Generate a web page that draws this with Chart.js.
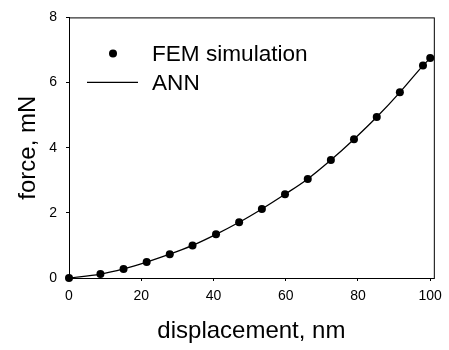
<!DOCTYPE html>
<html>
<head>
<meta charset="utf-8">
<script src="https://cdn.jsdelivr.net/npm/chart.js@4/dist/chart.umd.min.js"></script>
<style>
  html, body { margin: 0; padding: 0; background: #fff; }
  #wrap { width: 449px; height: 350px; }
</style>
</head>
<body>
<div id="wrap"><canvas id="chart" width="449" height="350"></canvas></div>
<script>
// displacement (nm) and force (mN)
const displacement = [0, 8.7, 15.1, 21.5, 27.9, 34.2, 40.7, 47.1, 53.4, 59.8, 66.1, 72.5, 78.9, 85.2, 91.6, 98, 100];
const femForce    = [0, 0.12, 0.28, 0.49, 0.73, 1.0, 1.34, 1.71, 2.12, 2.57, 3.04, 3.62, 4.26, 4.94, 5.70, 6.52, 6.75];
const annForce    = [0, 0.12, 0.28, 0.49, 0.73, 1.0, 1.34, 1.71, 2.12, 2.57, 3.04, 3.62, 4.26, 4.94, 5.70, 6.52, 6.75];
const xTicks = [0, 20, 40, 60, 80, 100];
const yTicks = [0, 2, 4, 6, 8];

const FONT = "'Liberation Sans', Arial, sans-serif";

// box around the plot + legend in the upper left corner
const framePlugin = {
    id: 'frame',
    beforeDatasetsDraw(chart) {
        const { ctx, chartArea: a } = chart;
        ctx.save();
        ctx.strokeStyle = '#000';
        ctx.lineWidth = 1;
        ctx.strokeRect(a.left + 0.5, a.top + 0.5, a.right - a.left, a.bottom - a.top);
        ctx.restore();
    },
    afterDraw(chart) {
        const { ctx, chartArea: a } = chart;
        const ds = chart.data.datasets;
        ctx.save();
        ctx.font = '22.6px ' + FONT;
        ctx.textBaseline = 'middle';
        ctx.fillStyle = '#000';
        // FEM simulation
        ctx.beginPath();
        ctx.arc(a.left + 44, a.top + 36, 4, 0, Math.PI * 2);
        ctx.fill();
        ctx.fillText(ds[0].label, a.left + 83, a.top + 37);
        // ANN
        ctx.beginPath();
        ctx.lineWidth = 1.3;
        ctx.moveTo(a.left + 18, a.top + 65);
        ctx.lineTo(a.left + 69, a.top + 65);
        ctx.stroke();
        ctx.fillText(ds[1].label, a.left + 83, a.top + 66);
        ctx.restore();
    }
};

const toPoints = ys => displacement.map((x, i) => ({ x: x, y: ys[i] }));

new Chart(document.getElementById('chart'), {
    type: 'line',
    data: {
        datasets: [{
            label: 'FEM simulation',
            data: toPoints(femForce),
            showLine: false,
            pointRadius: 4,
            pointBackgroundColor: '#000',
            pointBorderColor: '#000',
            pointBorderWidth: 0,
            clip: false,
            order: 0
        }, {
            label: 'ANN',
            data: toPoints(annForce),
            borderColor: '#000',
            borderWidth: 1.3,
            pointRadius: 0,
            cubicInterpolationMode: 'monotone',
            fill: false,
            order: 1
        }]
    },
    options: {
        responsive: false,
        animation: false,
        layout: { padding: { left: 0, right: 11, top: 12, bottom: 0 } },
        plugins: {
            legend: { display: false },
            tooltip: { enabled: false }
        },
        scales: {
            x: {
                type: 'linear',
                min: 0,
                max: 101,
                afterBuildTicks: s => { s.ticks = xTicks.map(v => ({ value: v })); },
                afterFit: s => { s.height = 72; },
                grid: { drawOnChartArea: false, drawTicks: true, tickLength: 3, tickColor: '#000' },
                border: { color: '#000', width: 1 },
                ticks: { color: '#000', padding: 7, maxRotation: 0, font: { family: FONT, size: 14 } },
                title: {
                    display: true,
                    text: 'displacement, nm',
                    color: '#000',
                    font: { family: FONT, size: 24 },
                    padding: { top: 0, bottom: 4 }
                }
            },
            y: {
                min: 0,
                max: 8,
                afterBuildTicks: s => { s.ticks = yTicks.map(v => ({ value: v })); },
                afterFit: s => { s.width = 69; },
                grid: { drawOnChartArea: false, drawTicks: true, tickLength: 3, tickColor: '#000' },
                border: { color: '#000', width: 1 },
                ticks: { color: '#000', padding: 9, font: { family: FONT, size: 14 } },
                title: {
                    display: true,
                    text: 'force, mN',
                    color: '#000',
                    font: { family: FONT, size: 24 },
                    padding: { top: 14, bottom: 0 }
                }
            }
        }
    },
    plugins: [framePlugin]
});
</script>
</body>
</html>
